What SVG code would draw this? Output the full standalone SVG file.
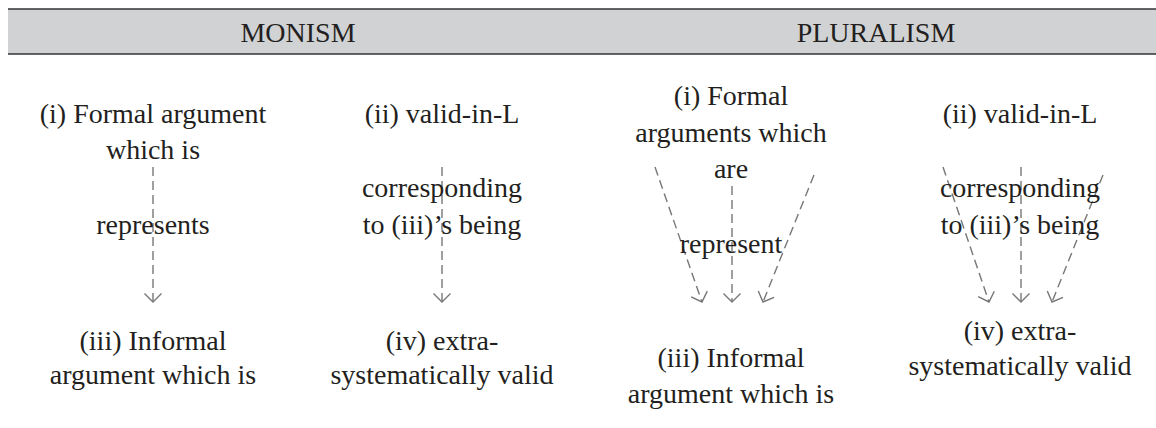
<svg xmlns="http://www.w3.org/2000/svg" width="1156" height="428" viewBox="0 0 1156 428">
<style>
  text { font-family: "Liberation Serif", "Times New Roman", serif; font-size: 28px; fill: #231f20; text-anchor: middle; }
  .dash { stroke: #777; stroke-width: 1.4; stroke-dasharray: 9 5; fill: none; }
  .rule { stroke: #333; stroke-width: 1.5; }
</style>
<defs>
  <marker id="arrow" viewBox="0 0 20 20" refX="10" refY="10" markerWidth="20" markerHeight="20" markerUnits="userSpaceOnUse" orient="auto">
    <path d="M1.5 1.5 L10 10 L1.5 18.5" fill="none" stroke="#777" stroke-width="1.4"/>
  </marker>
</defs>
<g id="header">
  <rect x="8" y="9" width="1148" height="45" fill="#d1d2d4"/>
  <line class="rule" x1="8" y1="9" x2="1156" y2="9"/>
  <line class="rule" x1="8" y1="54" x2="1156" y2="54"/>
  <text x="298" y="42">MONISM</text>
  <text x="876" y="42">PLURALISM</text>
</g>
<g id="connectors">
  <line class="dash" x1="153" y1="167" x2="153" y2="302" marker-end="url(#arrow)"/>
  <line class="dash" x1="442" y1="167" x2="442" y2="302" marker-end="url(#arrow)"/>
  <line class="dash" x1="655" y1="167" x2="702" y2="302" marker-end="url(#arrow)"/>
  <line class="dash" x1="732" y1="186" x2="732" y2="302" marker-end="url(#arrow)"/>
  <line class="dash" x1="814" y1="175" x2="763" y2="302" marker-end="url(#arrow)"/>
  <line class="dash" x1="943" y1="167" x2="989" y2="302" marker-end="url(#arrow)"/>
  <line class="dash" x1="1021" y1="167" x2="1021" y2="302" marker-end="url(#arrow)"/>
  <line class="dash" x1="1103" y1="175" x2="1052" y2="302" marker-end="url(#arrow)"/>
</g>
<g id="m-i">
  <text x="153" y="123">(i) Formal argument</text>
  <text x="153" y="159">which is</text>
</g>
<g id="m-rep"><text x="153" y="234">represents</text></g>
<g id="m-iii">
  <text x="153" y="350">(iii) Informal</text>
  <text x="153" y="384">argument which is</text>
</g>
<g id="m-ii"><text x="442" y="123">(ii) valid-in-L</text></g>
<g id="m-corr">
  <text x="442" y="197">corresponding</text>
  <text x="442" y="234">to (iii)’s being</text>
</g>
<g id="m-iv">
  <text x="442" y="350">(iv) extra-</text>
  <text x="442" y="384">systematically valid</text>
</g>
<g id="p-i">
  <text x="731" y="105">(i) Formal</text>
  <text x="731" y="142">arguments which</text>
  <text x="731" y="178">are</text>
</g>
<g id="p-rep"><text x="731" y="253">represent</text></g>
<g id="p-iii">
  <text x="731" y="367">(iii) Informal</text>
  <text x="731" y="403">argument which is</text>
</g>
<g id="p-ii"><text x="1020" y="123">(ii) valid-in-L</text></g>
<g id="p-corr">
  <text x="1020" y="197">corresponding</text>
  <text x="1020" y="234">to (iii)’s being</text>
</g>
<g id="p-iv">
  <text x="1020" y="340">(iv) extra-</text>
  <text x="1020" y="375">systematically valid</text>
</g>
</svg>
